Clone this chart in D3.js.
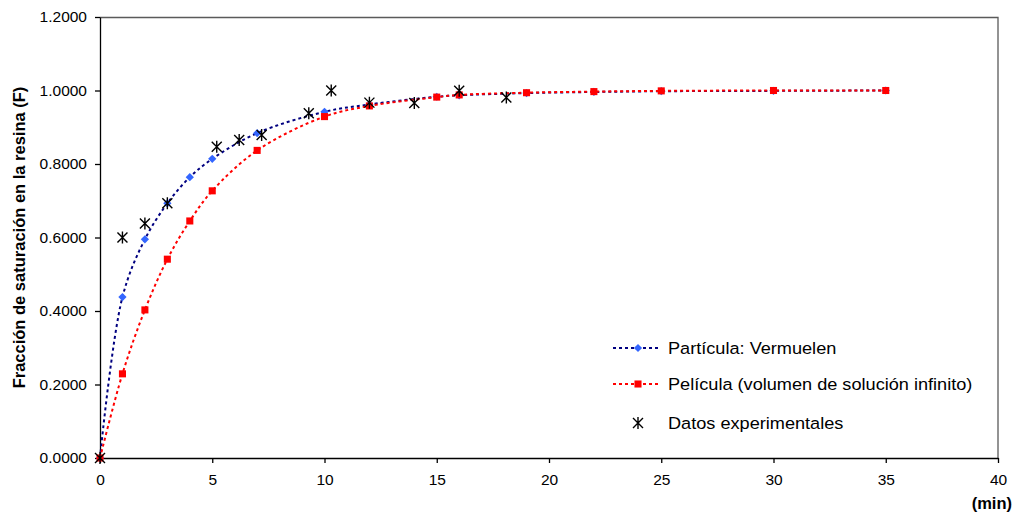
<!DOCTYPE html>
<html>
<head>
<meta charset="utf-8">
<script src="https://cdn.jsdelivr.net/npm/d3@7"></script>
<style>
  body { margin: 0; background: #fff; }
  svg { display: block; font-family: "Liberation Sans", Arial, sans-serif; }
  .axis text { font-size: 15.5px; fill: #000; }
  .axis path, .axis line { stroke: #000; stroke-width: 1.3px; }
  .axis-title { font-size: 16.5px; font-weight: bold; }
  .legend text { font-size: 16.5px; }
</style>
</head>
<body>
<svg id="chart"></svg>
<script>
// time (min) where the two models were evaluated
const modelTime = [0, 1, 2, 3, 4, 5, 7, 10, 12, 15, 16, 19, 22, 25, 30, 35];
// Partícula: Vermuelen
const particleF = [0, 0.438, 0.595, 0.693, 0.764, 0.814, 0.884, 0.942, 0.962, 0.983, 0.987, 0.993, 0.996, 0.998, 0.999, 1.000];
// Película (volumen de solución infinito)
const filmF = [0, 0.229, 0.403, 0.541, 0.645, 0.727, 0.837, 0.929, 0.958, 0.982, 0.988, 0.994, 0.997, 0.999, 1.000, 1.000];
// Datos experimentales
const expTime = [0, 1.0, 2.0, 3.0, 5.2, 6.2, 7.2, 9.3, 10.3, 12.0, 14.0, 16.0, 18.1];
const expF = [0, 0.600, 0.638, 0.693, 0.847, 0.865, 0.879, 0.938, 1.000, 0.967, 0.966, 0.999, 0.981];

const xTicks = [0, 5, 10, 15, 20, 25, 30, 35, 40];
const yTicks = [0, 0.2, 0.4, 0.6, 0.8, 1.0, 1.2];

const legendLabels = ['Partícula: Vermuelen', 'Película (volumen de solución infinito)', 'Datos experimentales'];

class ScatterChart {

  constructor(_config) {
    this.config = {
      parentElement: _config.parentElement,
      containerWidth: _config.containerWidth || 1014,
      containerHeight: _config.containerHeight || 513,
      margin: _config.margin || {top: 17, right: 16, bottom: 55, left: 100}
    }
    this.initVis();
  }

  initVis() {
    let vis = this;

    vis.width = vis.config.containerWidth - vis.config.margin.left - vis.config.margin.right;
    vis.height = vis.config.containerHeight - vis.config.margin.top - vis.config.margin.bottom;

    // scales
    vis.xScale = d3.scaleLinear()
        .domain([0, 40])
        .range([0, vis.width]);
    vis.yScale = d3.scaleLinear()
        .domain([0, 1.2])
        .range([vis.height, 0]);

    // axes
    vis.xAxis = d3.axisBottom(vis.xScale)
        .tickValues(xTicks)
        .tickSize(5)
        .tickSizeOuter(0)
        .tickPadding(14);
    vis.yAxis = d3.axisLeft(vis.yScale)
        .tickValues(yTicks)
        .tickFormat(d3.format('.4f'))
        .tickSize(5)
        .tickSizeOuter(0)
        .tickPadding(8);

    vis.svg = d3.select(vis.config.parentElement)
        .attr('width', vis.config.containerWidth)
        .attr('height', vis.config.containerHeight);

    vis.chart = vis.svg.append('g')
        .attr('transform', `translate(${vis.config.margin.left},${vis.config.margin.top})`);

    // top and right frame of the plot area
    vis.chart.append('path')
        .attr('d', `M0,0.5H${vis.width}V${vis.height}`)
        .attr('fill', 'none')
        .attr('stroke', '#5a5a5a')
        .attr('stroke-width', 1.3);

    vis.xAxisG = vis.chart.append('g')
        .attr('class', 'axis x-axis')
        .attr('transform', `translate(0,${vis.height})`);
    vis.yAxisG = vis.chart.append('g')
        .attr('class', 'axis y-axis');

    vis.svg.append('text')
        .attr('class', 'axis-title')
        .attr('transform', `translate(25,${vis.config.margin.top + vis.height / 2}) rotate(-90)`)
        .attr('text-anchor', 'middle')
        .text('Fracción de saturación en la resina (F)');

    vis.svg.append('text')
        .attr('class', 'axis-title')
        .attr('x', 1012)
        .attr('y', 509)
        .attr('text-anchor', 'end')
        .text('(min)');

    vis.line = d3.line()
        .x(d => vis.xScale(d[0]))
        .y(d => vis.yScale(d[1]))
        .curve(d3.curveCatmullRom);

    vis.updateVis();
  }

  updateVis() {
    let vis = this;
    vis.particle = modelTime.map((t, i) => [t, particleF[i]]);
    vis.film = modelTime.map((t, i) => [t, filmF[i]]);
    vis.experimental = expTime.map((t, i) => [t, expF[i]]);
    vis.renderVis();
  }

  renderVis() {
    let vis = this;

    vis.xAxisG.call(vis.xAxis);
    vis.yAxisG.call(vis.yAxis);
    vis.xAxisG.selectAll('text').attr('dy', '0.5em');

    const diamond = d3.symbol().type(d3.symbolSquare).size(34);
    const square = d3.symbol().type(d3.symbolSquare).size(50);
    const star = 'M-5,-5L5,5M-5,5L5,-5M0,-6V6';

    // particle series
    vis.chart.append('path')
        .datum(vis.particle)
        .attr('d', vis.line)
        .attr('fill', 'none')
        .attr('stroke', '#000080')
        .attr('stroke-width', 2)
        .attr('stroke-dasharray', '3,3');
    vis.chart.selectAll('.diamond')
      .data(vis.particle)
      .join('path')
        .attr('class', 'diamond')
        .attr('d', diamond)
        .attr('fill', '#3366ff')
        .attr('transform', d => `translate(${vis.xScale(d[0])},${vis.yScale(d[1])}) rotate(45)`);

    // film series
    vis.chart.append('path')
        .datum(vis.film)
        .attr('d', vis.line)
        .attr('fill', 'none')
        .attr('stroke', '#ff0000')
        .attr('stroke-width', 2)
        .attr('stroke-dasharray', '3,3');
    vis.chart.selectAll('.square')
      .data(vis.film)
      .join('path')
        .attr('class', 'square')
        .attr('d', square)
        .attr('fill', '#ff0000')
        .attr('transform', d => `translate(${vis.xScale(d[0])},${vis.yScale(d[1])})`);

    // experimental points
    vis.chart.selectAll('.star')
      .data(vis.experimental)
      .join('path')
        .attr('class', 'star')
        .attr('d', star)
        .attr('fill', 'none')
        .attr('stroke', '#000')
        .attr('stroke-width', 1.4)
        .attr('transform', d => `translate(${vis.xScale(d[0])},${vis.yScale(d[1])})`);

    // legend
    const legend = vis.svg.append('g').attr('class', 'legend');
    const rows = [348, 384, 423];
    const colors = ['#000080', '#ff0000', null];
    rows.forEach((y, i) => {
      if (colors[i]) {
        legend.append('line')
            .attr('x1', 613).attr('x2', 661)
            .attr('y1', y).attr('y2', y)
            .attr('stroke', colors[i])
            .attr('stroke-width', 2)
            .attr('stroke-dasharray', '3,3');
      }
      if (i === 0) {
        legend.append('path').attr('d', diamond).attr('fill', '#3366ff')
            .attr('transform', `translate(638,${y}) rotate(45)`);
      } else if (i === 1) {
        legend.append('path').attr('d', square).attr('fill', '#ff0000')
            .attr('transform', `translate(638,${y})`);
      } else {
        legend.append('path').attr('d', star).attr('fill', 'none')
            .attr('stroke', '#000').attr('stroke-width', 1.4)
            .attr('transform', `translate(638,${y})`);
      }
      // the original text is a little wider than Arial
      legend.append('text')
          .attr('transform', `translate(668,${y}) scale(1.1,1)`)
          .attr('dy', '0.35em')
          .text(legendLabels[i]);
    });
  }
}

new ScatterChart({parentElement: '#chart'});
</script>
</body>
</html>
